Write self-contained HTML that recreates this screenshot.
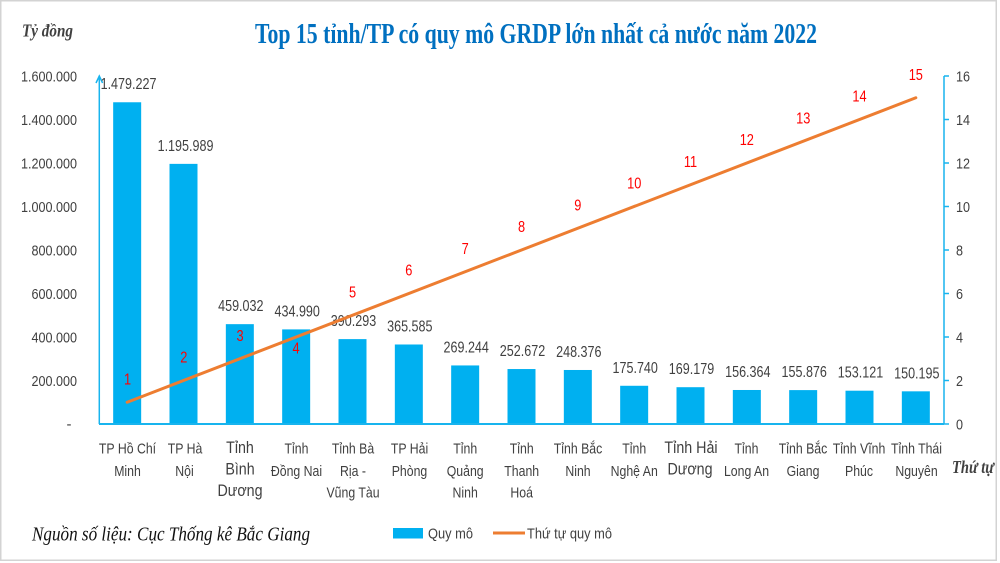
<!DOCTYPE html>
<html>
<head>
<meta charset="utf-8">
<style>
  html,body{margin:0;padding:0;background:#fff;}
  svg{display:block;}
  .sans{font-family:"Liberation Sans","Noto Sans CJK SC",sans-serif;}
  .serif{font-family:"Liberation Serif","Noto Serif CJK SC",serif;}
</style>
</head>
<body>
<svg width="1000" height="563" viewBox="0 0 1000 563" xmlns="http://www.w3.org/2000/svg">
  <rect x="0" y="0" width="1000" height="563" fill="#fff"/>
  <rect x="0.75" y="0.75" width="995.5" height="559.5" fill="none" stroke="#d3d3d3" stroke-width="1.5"/>

  <!-- Title -->
  <text class="serif" x="255" y="43" font-size="29" font-weight="bold" fill="#0070C0" textLength="562" lengthAdjust="spacingAndGlyphs">Top 15 tỉnh/TP có quy mô GRDP lớn nhất cả nước năm 2022</text>
  <text class="serif" x="22" y="36.5" font-size="18" font-weight="bold" font-style="italic" fill="#404040" textLength="51" lengthAdjust="spacingAndGlyphs">Tỷ đồng</text>
  <text class="serif" x="952" y="473" font-size="18" font-weight="bold" font-style="italic" fill="#404040" textLength="42" lengthAdjust="spacingAndGlyphs">Thứ tự</text>

  <!-- Left tick labels -->
  <g class="sans" font-size="15" fill="#404040" text-anchor="end">
    <text transform="translate(77,81.5) scale(0.84,1)">1.600.000</text>
    <text transform="translate(77,125) scale(0.84,1)">1.400.000</text>
    <text transform="translate(77,168.5) scale(0.84,1)">1.200.000</text>
    <text transform="translate(77,212) scale(0.84,1)">1.000.000</text>
    <text transform="translate(77,255.5) scale(0.84,1)">800.000</text>
    <text transform="translate(77,299) scale(0.84,1)">600.000</text>
    <text transform="translate(77,342.5) scale(0.84,1)">400.000</text>
    <text transform="translate(77,386) scale(0.84,1)">200.000</text>
  </g>
  <text class="sans" x="69" y="429" font-size="15" fill="#404040" text-anchor="middle">-</text>

  <!-- Right tick labels -->
  <g class="sans" font-size="15" fill="#404040">
    <text transform="translate(956,81.5) scale(0.84,1)">16</text>
    <text transform="translate(956,125) scale(0.84,1)">14</text>
    <text transform="translate(956,168.5) scale(0.84,1)">12</text>
    <text transform="translate(956,212) scale(0.84,1)">10</text>
    <text transform="translate(956,255.5) scale(0.84,1)">8</text>
    <text transform="translate(956,299) scale(0.84,1)">6</text>
    <text transform="translate(956,342.5) scale(0.84,1)">4</text>
    <text transform="translate(956,386) scale(0.84,1)">2</text>
    <text transform="translate(956,429.5) scale(0.84,1)">0</text>
  </g>

  <!-- Bars -->
  <g fill="#00B0F0">
    <rect x="113.17" y="102.27" width="28" height="321.73"/>
    <rect x="169.5" y="163.87" width="28" height="260.13"/>
    <rect x="225.83" y="324.16" width="28" height="99.84"/>
    <rect x="282.17" y="329.39" width="28" height="94.61"/>
    <rect x="338.5" y="339.11" width="28" height="84.89"/>
    <rect x="394.83" y="344.49" width="28" height="79.51"/>
    <rect x="451.17" y="365.44" width="28" height="58.56"/>
    <rect x="507.5" y="369.04" width="28" height="54.96"/>
    <rect x="563.83" y="369.98" width="28" height="54.02"/>
    <rect x="620.17" y="385.78" width="28" height="38.22"/>
    <rect x="676.5" y="387.2" width="28" height="36.8"/>
    <rect x="732.83" y="389.99" width="28" height="34.01"/>
    <rect x="789.17" y="390.1" width="28" height="33.9"/>
    <rect x="845.5" y="390.7" width="28" height="33.3"/>
    <rect x="901.83" y="391.33" width="28" height="32.67"/>
  </g>

  <!-- Axes -->
  <g stroke="#18B4EE" fill="none">
    <line x1="99" y1="424" x2="944" y2="424" stroke-width="2"/>
    <line x1="99.3" y1="424" x2="99.3" y2="78" stroke-width="1.5"/>
    <polyline points="96,83 99.3,76 102.6,83" stroke-width="1.5"/>
    <line x1="944" y1="76" x2="944" y2="424" stroke-width="1.5"/>
    <g stroke-width="1.5">
      <line x1="944" y1="76" x2="949" y2="76"/>
      <line x1="944" y1="119.5" x2="949" y2="119.5"/>
      <line x1="944" y1="163" x2="949" y2="163"/>
      <line x1="944" y1="206.5" x2="949" y2="206.5"/>
      <line x1="944" y1="250" x2="949" y2="250"/>
      <line x1="944" y1="293.5" x2="949" y2="293.5"/>
      <line x1="944" y1="337" x2="949" y2="337"/>
      <line x1="944" y1="380.5" x2="949" y2="380.5"/>
      <line x1="944" y1="424" x2="949" y2="424"/>
    </g>
  </g>

  <!-- Value labels -->
  <g class="sans" font-size="16" fill="#404040" text-anchor="middle">
    <text transform="translate(128.5,89) scale(0.785,1)">1.479.227</text>
    <text transform="translate(185.5,150.9) scale(0.785,1)">1.195.989</text>
    <text transform="translate(240.8,311.2) scale(0.785,1)">459.032</text>
    <text transform="translate(297.2,316.4) scale(0.785,1)">434.990</text>
    <text transform="translate(353.5,326.1) scale(0.785,1)">390.293</text>
    <text transform="translate(409.8,331.5) scale(0.785,1)">365.585</text>
    <text transform="translate(466.2,352.4) scale(0.785,1)">269.244</text>
    <text transform="translate(522.5,356) scale(0.785,1)">252.672</text>
    <text transform="translate(578.8,357) scale(0.785,1)">248.376</text>
    <text transform="translate(635.2,372.8) scale(0.785,1)">175.740</text>
    <text transform="translate(691.5,374.2) scale(0.785,1)">169.179</text>
    <text transform="translate(747.8,377) scale(0.785,1)">156.364</text>
    <text transform="translate(804.2,377.1) scale(0.785,1)">155.876</text>
    <text transform="translate(860.5,377.7) scale(0.785,1)">153.121</text>
    <text transform="translate(916.8,378.3) scale(0.785,1)">150.195</text>
  </g>

  <!-- Line -->
  <line x1="127.17" y1="402.25" x2="915.83" y2="97.75" stroke="#ED7D31" stroke-width="3" stroke-linecap="round"/>

  <!-- Rank labels -->
  <g class="sans" font-size="16" fill="#FF0000" text-anchor="middle">
    <text transform="translate(127.5,384.5) scale(0.8,1)">1</text>
    <text transform="translate(183.8,362.5) scale(0.8,1)">2</text>
    <text transform="translate(240,340.8) scale(0.8,1)">3</text>
    <text transform="translate(296,353.3) scale(0.8,1)">4</text>
    <text transform="translate(352.5,297.3) scale(0.8,1)">5</text>
    <text transform="translate(408.8,275.5) scale(0.8,1)">6</text>
    <text transform="translate(465.2,253.8) scale(0.8,1)">7</text>
    <text transform="translate(521.5,232) scale(0.8,1)">8</text>
    <text transform="translate(577.8,210.3) scale(0.8,1)">9</text>
    <text transform="translate(634.2,188.5) scale(0.8,1)">10</text>
    <text transform="translate(690.5,166.8) scale(0.8,1)">11</text>
    <text transform="translate(746.8,145) scale(0.8,1)">12</text>
    <text transform="translate(803.2,123.3) scale(0.8,1)">13</text>
    <text transform="translate(859.5,101.5) scale(0.8,1)">14</text>
    <text transform="translate(915.8,79.8) scale(0.8,1)">15</text>
  </g>

  <!-- Category labels -->
  <g class="sans" font-size="15" fill="#404040" text-anchor="middle">
    <text transform="translate(127.5,453.5) scale(0.82,1)">TP Hồ Chí</text>
    <text transform="translate(127.5,476) scale(0.82,1)">Minh</text>

    <text transform="translate(185,453.5) scale(0.82,1)">TP Hà</text>
    <text transform="translate(184.5,476) scale(0.82,1)">Nội</text>

    <text transform="translate(296.5,453.5) scale(0.82,1)">Tỉnh</text>
    <text transform="translate(296.5,476) scale(0.82,1)">Đồng Nai</text>

    <text transform="translate(353,453.5) scale(0.82,1)">Tỉnh Bà</text>
    <text transform="translate(353,476) scale(0.82,1)">Rịa -</text>
    <text transform="translate(353,497.5) scale(0.82,1)">Vũng Tàu</text>

    <text transform="translate(409.5,453.5) scale(0.82,1)">TP Hải</text>
    <text transform="translate(409.5,476) scale(0.82,1)">Phòng</text>

    <text transform="translate(465.2,453.5) scale(0.82,1)">Tỉnh</text>
    <text transform="translate(465.2,476) scale(0.82,1)">Quảng</text>
    <text transform="translate(465.2,497.5) scale(0.82,1)">Ninh</text>

    <text transform="translate(521.7,453.5) scale(0.82,1)">Tỉnh</text>
    <text transform="translate(521.7,476) scale(0.82,1)">Thanh</text>
    <text transform="translate(521.7,497.5) scale(0.82,1)">Hoá</text>

    <text transform="translate(578,453.5) scale(0.82,1)">Tỉnh Bắc</text>
    <text transform="translate(578,476) scale(0.82,1)">Ninh</text>

    <text transform="translate(634.2,453.5) scale(0.82,1)">Tỉnh</text>
    <text transform="translate(634.2,476) scale(0.82,1)">Nghệ An</text>

    <text transform="translate(746.5,453.5) scale(0.82,1)">Tỉnh</text>
    <text transform="translate(746.5,476) scale(0.82,1)">Long An</text>

    <text transform="translate(803,453.5) scale(0.82,1)">Tỉnh Bắc</text>
    <text transform="translate(803,476) scale(0.82,1)">Giang</text>

    <text transform="translate(859,453.5) scale(0.82,1)">Tỉnh Vĩnh</text>
    <text transform="translate(859,476) scale(0.82,1)">Phúc</text>

    <text transform="translate(916.5,453.5) scale(0.82,1)">Tỉnh Thái</text>
    <text transform="translate(916.5,476) scale(0.82,1)">Nguyên</text>
  </g>
  <g class="sans" font-size="17" fill="#404040" text-anchor="middle">
    <text transform="translate(240,453) scale(0.84,1)">Tỉnh</text>
    <text transform="translate(240,474.5) scale(0.84,1)">Bình</text>
    <text transform="translate(240,496) scale(0.84,1)">Dương</text>

    <text transform="translate(691,453) scale(0.84,1)">Tỉnh Hải</text>
    <text transform="translate(690,474.5) scale(0.84,1)">Dương</text>
  </g>

  <!-- Source -->
  <text class="serif" x="32" y="540.5" font-size="20" font-style="italic" fill="#111" textLength="278" lengthAdjust="spacingAndGlyphs">Nguồn số liệu: Cục Thống kê Bắc Giang</text>

  <!-- Legend -->
  <rect x="393" y="528" width="30" height="10.5" fill="#00B0F0"/>
  <text class="sans" x="428" y="538.5" font-size="15" fill="#404040" textLength="45" lengthAdjust="spacingAndGlyphs">Quy mô</text>
  <line x1="493" y1="533" x2="525" y2="533" stroke="#ED7D31" stroke-width="3"/>
  <text class="sans" x="527" y="538.5" font-size="15" fill="#404040" textLength="85" lengthAdjust="spacingAndGlyphs">Thứ tự quy mô</text>
</svg>
</body>
</html>
